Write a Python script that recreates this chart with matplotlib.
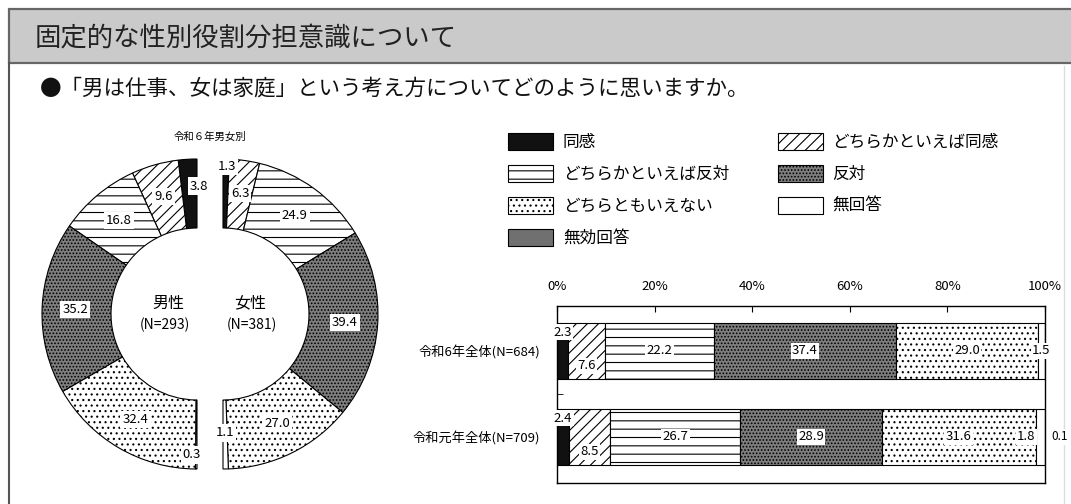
import numpy as np
import matplotlib
matplotlib.use("Agg")
import matplotlib.pyplot as plt
from matplotlib.patches import Wedge, Rectangle, Patch

plt.rcParams['font.family'] = ['Noto Sans CJK JP', 'DejaVu Sans']
plt.rcParams['hatch.linewidth'] = 0.8

# --- data ---
categories = ['同感', 'どちらかといえば同感', 'どちらかといえば反対', '反対',
              'どちらともいえない', '無回答', '無効回答']
male = [3.8, 9.6, 16.8, 35.2, 32.4, 0.3, 0.0]
female = [1.3, 6.3, 24.9, 39.4, 27.0, 1.1, 0.0]
bar_labels = ['令和6年全体(N=684)', '令和元年全体(N=709)']
r6_total = [2.3, 7.6, 22.2, 37.4, 29.0, 1.5, 0.0]
r1_total = [2.4, 8.5, 26.7, 28.9, 31.6, 1.8, 0.1]
xticks = [0, 20, 40, 60, 80, 100]
legend_order = ['同感', 'どちらかといえば反対', 'どちらともいえない', '無効回答',
                'どちらかといえば同感', '反対', '無回答']

styles = {
    '同感': ('#111111', ''),
    'どちらかといえば同感': ('white', '///'),
    'どちらかといえば反対': ('white', '--'),
    '反対': ('#7e7e7e', '.....'),
    'どちらともいえない': ('white', '...'),
    '無回答': ('white', ''),
    '無効回答': ('#707070', ''),
}

W, H = 1071, 504
fig = plt.figure(figsize=(W / 100, H / 100), dpi=100)
fig.patch.set_facecolor('white')


def px_axes(x0, y0, x1, y1):
    return fig.add_axes([x0 / W, 1 - y1 / H, (x1 - x0) / W, (y1 - y0) / H])


# background: header band and frame
bg = px_axes(0, 0, W, H)
bg.set_xlim(0, W)
bg.set_ylim(H, 0)
bg.axis('off')
bg.add_patch(Rectangle((9, 9), W, 54, facecolor='#cacaca', edgecolor='#666666', lw=1.6))
bg.plot([9, 9], [63, H], color='#555555', lw=1.5)
bg.plot([1064, 1064], [66, H], color='#dddddd', lw=1)
bg.text(35, 38, '固定的な性別役割分担意識について', fontsize=19, va='center', color='#222222')
bg.text(40, 89, '●「男は仕事、女は家庭」という考え方についてどのように思いますか。',
        fontsize=15.5, va='center', color='#111111')

# --- donut (male left half, female right half) ---
ax = px_axes(30, 134, 390, 494)
ax.set_xlim(-180, 180)
ax.set_ylim(-180, 180)
ax.set_aspect('equal')
ax.axis('off')

R, width, gap = 155, 69, 13
small_pos = {('m', '同感'): (-11, 128), ('f', '同感'): (17, 148),
             ('m', '無回答'): (-18, -141), ('f', '無回答'): (15, -119)}


def half(vals, sign, key):
    tot = sum(vals)
    cum = 0
    for cat, v in zip(categories, vals):
        if v == 0:
            continue
        a0 = 90 + sign * 180 * cum / tot
        a1 = 90 + sign * 180 * (cum + v) / tot
        th1, th2 = (a0, a1) if sign > 0 else (a1, a0)
        fc, h = styles[cat]
        cx = -sign * gap
        ax.add_patch(Wedge((cx, 0), R, th1, th2, width=width, facecolor=fc,
                           hatch=h, edgecolor='black', lw=0.8))
        if (key, cat) in small_pos:
            tx, ty = small_pos[(key, cat)]
        else:
            mid = np.radians((a0 + a1) / 2)
            tx, ty = cx + 122 * np.cos(mid), 122 * np.sin(mid)
        ax.text(tx, ty, f'{v:.1f}', fontsize=9.5, ha='center', va='center',
                bbox=dict(facecolor='white', edgecolor='none', pad=1.5))
        cum += v


half(male, 1, 'm')
half(female, -1, 'f')
ax.text(-42, 11, '男性', fontsize=11.5, ha='center', va='center')
ax.text(-45, -11, '(N=293)', fontsize=10, ha='center', va='center')
ax.text(40, 11, '女性', fontsize=11.5, ha='center', va='center')
ax.text(42, -11, '(N=381)', fontsize=10, ha='center', va='center')
ax.text(0, 177, '令和６年男女別', fontsize=7.5, ha='center', va='center')

# --- legend ---
handles = [Patch(facecolor=styles[c][0], hatch=styles[c][1], edgecolor='black', lw=0.8)
           for c in legend_order]
fig.legend(handles, legend_order, ncol=2, loc='upper left',
           bbox_to_anchor=(508 / W, 1 - 133 / H), frameon=False, fontsize=12,
           handlelength=2.7, handleheight=1.15, labelspacing=0.85,
           columnspacing=2.9, handletextpad=0.6, borderpad=0, borderaxespad=0)

# --- stacked bars ---
bx = px_axes(557, 306, 1045, 483)
y = np.array([0, 1])
left = np.zeros(2)
rows = [r6_total, r1_total]
last_shift = [0, -2.8]
for i, cat in enumerate(categories):
    vals = np.array([rows[0][i], rows[1][i]])
    fc, h = styles[cat]
    bx.barh(y, vals, left=left, height=0.64, color=fc, hatch=h,
            edgecolor='black', lw=0.8)
    for j in range(2):
        v = vals[j]
        if v == 0:
            continue
        cx = left[j] + v / 2
        cy = y[j]
        ha = 'center'
        fs = 9.5
        if cat == '同感':
            cy = y[j] - 0.22
        elif cat == 'どちらかといえば同感':
            cy = y[j] + 0.17
        elif cat == '無回答':
            cx += last_shift[j]
        elif cat == '無効回答':
            cx = 101.3
            ha = 'left'
            fs = 8.5
        bx.text(cx, cy, f'{v:.1f}', fontsize=fs, ha=ha, va='center', clip_on=False,
                bbox=dict(facecolor='white', edgecolor='none', pad=1.0))
    left += vals

bx.set_xlim(0, 100)
bx.set_ylim(1.535, -0.523)
bx.xaxis.tick_top()
bx.set_xticks(xticks, [f'{t}%' for t in xticks])
bx.tick_params(axis='x', direction='in', length=4, pad=9, labelsize=9.5)
bx.set_yticks(y, bar_labels)
bx.tick_params(axis='y', which='major', length=0, pad=12, labelsize=9.5)
bx.set_yticks([0.5], minor=True)
bx.tick_params(axis='y', which='minor', direction='in', length=4)
for s in bx.spines.values():
    s.set_linewidth(1.0)

fig.savefig('out.png', dpi=100)
